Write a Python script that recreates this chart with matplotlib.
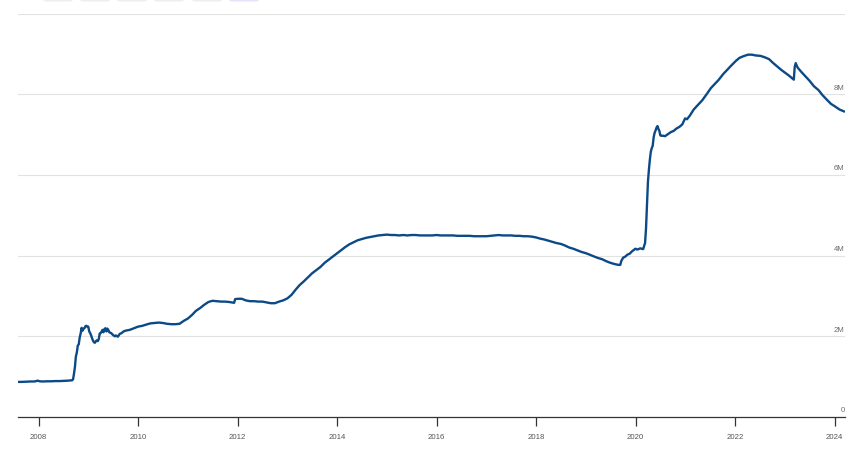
import matplotlib
matplotlib.use("Agg")
import matplotlib.pyplot as plt
from matplotlib.patches import FancyBboxPatch
import pandas as pd

# Total assets (millions of millions, i.e. "M" units as labelled on the chart)
dates = [
    "2007-08-01", "2007-09-01", "2007-10-01", "2007-11-01", "2007-12-01", "2007-12-26",
    "2008-01-09", "2008-02-01", "2008-03-01", "2008-04-01", "2008-05-01", "2008-06-01",
    "2008-07-01", "2008-08-01", "2008-09-03", "2008-09-10", "2008-09-17", "2008-09-24",
    "2008-10-01", "2008-10-08", "2008-10-15", "2008-10-22", "2008-10-29", "2008-11-05",
    "2008-11-12", "2008-11-19", "2008-11-26", "2008-12-03", "2008-12-10", "2008-12-17",
    "2008-12-24", "2008-12-31",
    "2009-01-07", "2009-01-14", "2009-01-21", "2009-01-28", "2009-02-04", "2009-02-11",
    "2009-02-18", "2009-02-25", "2009-03-04", "2009-03-11", "2009-03-18", "2009-03-25",
    "2009-04-01", "2009-04-08", "2009-04-15", "2009-04-22", "2009-04-29", "2009-05-06",
    "2009-05-13", "2009-05-20", "2009-05-27", "2009-06-03", "2009-06-17", "2009-07-01",
    "2009-07-15", "2009-07-22", "2009-08-05", "2009-08-19", "2009-09-02", "2009-09-16",
    "2009-10-01", "2009-11-01", "2009-12-01",
    "2010-01-01", "2010-02-01", "2010-03-01", "2010-04-01", "2010-05-01", "2010-06-01",
    "2010-07-01", "2010-08-01", "2010-09-01", "2010-10-01", "2010-11-01", "2010-12-01",
    "2011-01-01", "2011-02-01", "2011-03-01", "2011-04-01", "2011-05-01", "2011-06-01",
    "2011-07-01", "2011-08-01", "2011-09-01", "2011-10-01", "2011-11-01", "2011-12-07",
    "2011-12-14",
    "2012-01-01", "2012-02-01", "2012-03-01", "2012-04-01", "2012-05-01", "2012-06-01",
    "2012-07-01", "2012-08-01", "2012-09-01", "2012-10-01", "2012-11-01", "2012-12-01",
    "2013-01-01", "2013-02-01", "2013-03-01", "2013-04-01", "2013-05-01", "2013-06-01",
    "2013-07-01", "2013-08-01", "2013-09-01", "2013-10-01", "2013-11-01", "2013-12-01",
    "2014-01-01", "2014-02-01", "2014-03-01", "2014-04-01", "2014-05-01", "2014-06-01",
    "2014-07-01", "2014-08-01", "2014-09-01", "2014-10-01", "2014-11-01", "2014-12-01",
    "2015-01-01", "2015-02-01", "2015-03-01", "2015-04-01", "2015-05-01", "2015-06-01",
    "2015-07-01", "2015-08-01", "2015-09-01", "2015-10-01", "2015-11-01", "2015-12-01",
    "2016-01-01", "2016-02-01", "2016-03-01", "2016-04-01", "2016-05-01", "2016-06-01",
    "2016-07-01", "2016-08-01", "2016-09-01", "2016-10-01", "2016-11-01", "2016-12-01",
    "2017-01-01", "2017-02-01", "2017-03-01", "2017-04-01", "2017-05-01", "2017-06-01",
    "2017-07-01", "2017-08-01", "2017-09-01", "2017-10-01", "2017-11-01", "2017-12-01",
    "2018-01-01", "2018-02-01", "2018-03-01", "2018-04-01", "2018-05-01", "2018-06-01",
    "2018-07-01", "2018-08-01", "2018-09-01", "2018-10-01", "2018-11-01", "2018-12-01",
    "2019-01-01", "2019-02-01", "2019-03-01", "2019-04-01", "2019-05-01", "2019-06-01",
    "2019-07-01", "2019-08-01", "2019-08-28", "2019-09-11", "2019-09-18", "2019-10-02",
    "2019-10-16", "2019-11-01", "2019-11-20", "2019-12-04", "2019-12-31",
    "2020-01-15", "2020-02-05", "2020-02-26", "2020-03-04", "2020-03-11", "2020-03-18",
    "2020-03-25", "2020-04-01", "2020-04-08", "2020-04-15", "2020-04-22", "2020-04-29",
    "2020-05-06", "2020-05-13", "2020-05-20", "2020-05-27", "2020-06-03", "2020-06-10",
    "2020-06-17", "2020-06-24", "2020-07-01", "2020-07-08", "2020-07-22", "2020-08-05",
    "2020-08-26", "2020-09-16", "2020-10-07", "2020-10-28", "2020-11-18", "2020-12-09",
    "2020-12-30",
    "2021-01-13", "2021-02-03", "2021-03-03", "2021-04-07", "2021-05-05", "2021-06-02",
    "2021-07-07", "2021-08-04", "2021-09-01", "2021-10-06", "2021-11-03", "2021-12-01",
    "2022-01-05", "2022-02-02", "2022-03-02", "2022-04-06", "2022-05-04", "2022-06-01",
    "2022-07-06", "2022-08-03", "2022-09-07", "2022-10-05", "2022-11-02", "2022-12-07",
    "2023-01-04", "2023-02-01", "2023-03-01", "2023-03-08", "2023-03-15", "2023-03-22",
    "2023-04-05", "2023-05-03", "2023-06-07", "2023-07-05", "2023-08-02", "2023-09-06",
    "2023-10-04", "2023-11-01", "2023-12-06",
    "2024-01-03", "2024-02-07", "2024-03-13",
]
values = [
    0.87, 0.87, 0.875, 0.88, 0.88, 0.90,
    0.885, 0.88, 0.885, 0.885, 0.89, 0.89,
    0.895, 0.90, 0.91, 0.93, 1.07, 1.24,
    1.50, 1.60, 1.77, 1.80, 1.97, 2.07,
    2.21, 2.14, 2.19, 2.20, 2.25, 2.26,
    2.24, 2.24,
    2.12, 2.08, 2.02, 1.95, 1.89, 1.85,
    1.84, 1.88, 1.90, 1.88, 1.93, 2.07,
    2.08, 2.12, 2.16, 2.10, 2.18, 2.20,
    2.12, 2.19, 2.16, 2.10, 2.08, 2.03,
    2.00, 2.02, 1.99, 2.06, 2.08, 2.12,
    2.14, 2.16, 2.20,
    2.24, 2.26, 2.29, 2.32, 2.33, 2.34,
    2.33, 2.31, 2.30, 2.30, 2.31, 2.38,
    2.44, 2.53, 2.63, 2.70, 2.78, 2.85,
    2.88, 2.87, 2.86, 2.86, 2.85, 2.83,
    2.92,
    2.93, 2.93, 2.89, 2.87, 2.87, 2.86,
    2.86, 2.84, 2.82, 2.82, 2.86, 2.89,
    2.94, 3.03, 3.15, 3.27, 3.36, 3.46,
    3.56, 3.64, 3.72, 3.82, 3.90, 3.98,
    4.06, 4.14, 4.21, 4.28, 4.33, 4.38,
    4.41, 4.44, 4.46, 4.48, 4.50, 4.51,
    4.52, 4.51, 4.51, 4.50, 4.51, 4.50,
    4.51, 4.51, 4.50, 4.50, 4.50, 4.50,
    4.51, 4.50, 4.50, 4.50, 4.50, 4.49,
    4.49, 4.49, 4.49, 4.48, 4.48, 4.48,
    4.48, 4.49, 4.50, 4.51, 4.50, 4.50,
    4.50, 4.49, 4.49, 4.48, 4.48, 4.47,
    4.45, 4.42, 4.40, 4.37, 4.34, 4.31,
    4.29, 4.25, 4.20, 4.17, 4.13, 4.09,
    4.06, 4.02, 3.98, 3.94, 3.91, 3.86,
    3.82, 3.79, 3.77, 3.77, 3.86, 3.95,
    3.97, 4.02, 4.05, 4.10, 4.17,
    4.15, 4.18, 4.16, 4.24, 4.31, 4.67,
    5.25, 5.82, 6.12, 6.37, 6.57, 6.66,
    6.72, 6.93, 7.04, 7.10, 7.17, 7.21,
    7.14, 7.09, 6.98, 6.97, 6.97, 6.96,
    7.01, 7.06, 7.09, 7.15, 7.19, 7.25,
    7.40,
    7.38, 7.47, 7.62, 7.75, 7.85, 7.98,
    8.15, 8.25, 8.35, 8.50, 8.60, 8.70,
    8.82, 8.90, 8.94, 8.98, 8.98, 8.96,
    8.95, 8.92, 8.87, 8.78, 8.70, 8.60,
    8.53, 8.46, 8.38, 8.36, 8.68, 8.77,
    8.66, 8.55, 8.42, 8.32, 8.20, 8.10,
    7.98, 7.88, 7.76,
    7.70, 7.62, 7.57,
]

y_ticks = [0, 2, 4, 6, 8]
y_tick_labels = ["0", "2M", "4M", "6M", "8M"]
x_tick_years = [2008, 2010, 2012, 2014, 2016, 2018, 2020, 2022, 2024]

x = pd.to_datetime(dates)

fig = plt.figure(figsize=(8.65, 4.51), dpi=100)
ax = fig.add_axes([18 / 865, 34 / 451, 827 / 865, 403.5 / 451])

ax.plot(x, values, color="#0b4a86", linewidth=1.7, solid_joinstyle="round",
        solid_capstyle="round", zorder=3)

ax.set_xlim(pd.Timestamp("2007-08-03"), pd.Timestamp("2024-03-18"))
ax.set_ylim(0, 10)

# horizontal gridlines (including top one)
for v in y_ticks[1:] + [10]:
    ax.axhline(v, color="#e2e2e2", linewidth=0.8, zorder=1)

# y labels: right aligned, sitting just above the gridlines
for v, lab in zip(y_ticks, y_tick_labels):
    ax.annotate(lab, xy=(1.0, v), xycoords=("axes fraction", "data"),
                xytext=(-0.3, 1.8), textcoords="offset points",
                ha="right", va="bottom", fontsize=5.6, color="#6a6a6a",
                family="Liberation Sans")

ax.set_yticks([])
for s in ["top", "right", "left"]:
    ax.spines[s].set_visible(False)
ax.spines["bottom"].set_color("#333333")
ax.spines["bottom"].set_linewidth(0.9)

ax.set_xticks([pd.Timestamp(f"{y}-01-01") for y in x_tick_years])
ax.set_xticklabels([str(y) for y in x_tick_years], fontsize=5.6,
                   color="#555555", family="Liberation Sans")
ax.tick_params(axis="x", direction="out", length=6.5, width=0.9,
               color="#333333", pad=6)

# partially visible toolbar buttons at the very top
btn_x = [43, 80, 117, 154, 192, 229]
btn_colors = ["#eeeeee"] * 5 + ["#e4e4fb"]
for bx, bc in zip(btn_x, btn_colors):
    p = FancyBboxPatch((bx / 865, 449.5 / 451), 30 / 865, 10 / 451,
                       boxstyle="round,pad=0,rounding_size=0.004",
                       transform=fig.transFigure, facecolor=bc,
                       edgecolor="none")
    fig.patches.append(p)

fig.savefig("out.png", dpi=100)
